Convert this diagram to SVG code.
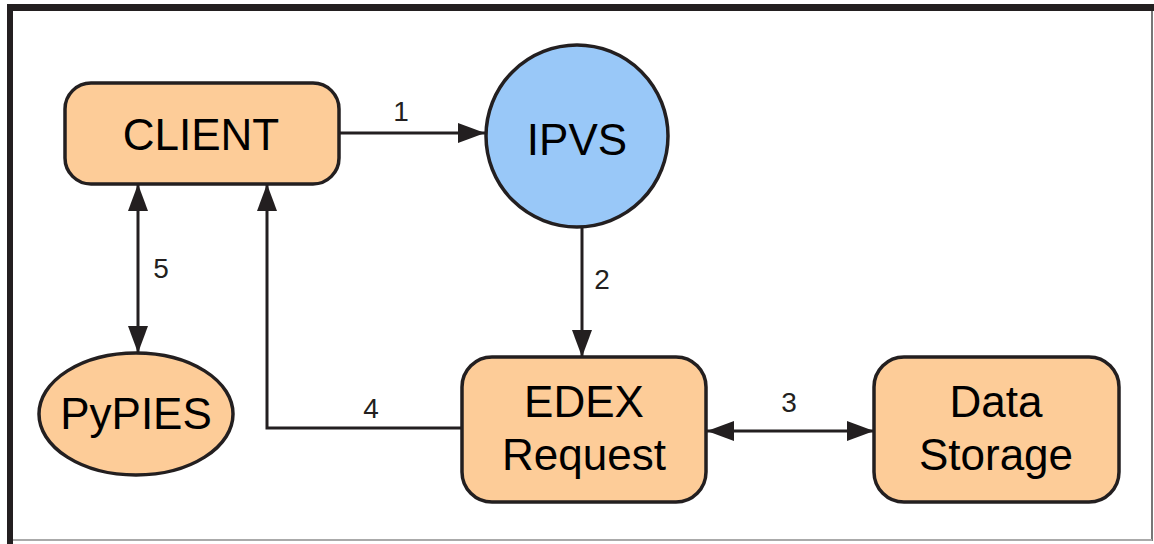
<svg xmlns="http://www.w3.org/2000/svg" width="1154" height="544" viewBox="0 0 1154 544">
<style>
.node{fill:#FDCC98;stroke:#231f20;stroke-width:3.5}
.blue{fill:#99C8F8;stroke:#231f20;stroke-width:3.5}
.t{font-family:"Liberation Sans",Arial,sans-serif;font-size:44px;fill:#000;text-anchor:middle}
.lbl{font-family:"Liberation Sans",Arial,sans-serif;font-size:28px;fill:#231f20;text-anchor:middle}
.c{fill:none;stroke:#231f20;stroke-width:3}
</style>
<defs>
<marker id="ah" markerUnits="userSpaceOnUse" markerWidth="28" markerHeight="20" viewBox="0 0 27 20" refX="27" refY="10" orient="auto-start-reverse">
<path d="M0,0 L27,10 L0,20 z" fill="#231f20"/>
</marker>
</defs>
<rect width="1154" height="544" fill="#fff"/>
<g id="frame">
<rect x="7" y="4" width="1147" height="7" fill="#231f20"/>
<rect x="7" y="4" width="6" height="540" fill="#231f20"/>
<line x1="1152" y1="11" x2="1152" y2="541" stroke="#777" stroke-width="2"/>
<line x1="13" y1="540" x2="1152" y2="540" stroke="#aaa" stroke-width="2"/>
</g>
<g id="connectors">
<line class="c" x1="340" y1="133" x2="485" y2="133" marker-end="url(#ah)"/>
<line class="c" x1="582" y1="228" x2="582" y2="357" marker-end="url(#ah)"/>
<line class="c" x1="707" y1="431" x2="874" y2="431" marker-start="url(#ah)" marker-end="url(#ah)"/>
<polyline class="c" points="462,428 267,428 267,184" marker-end="url(#ah)"/>
<line class="c" x1="138" y1="184" x2="138" y2="353" marker-start="url(#ah)" marker-end="url(#ah)"/>
<text class="lbl" x="401" y="121">1</text>
<text class="lbl" x="602" y="289">2</text>
<text class="lbl" x="789" y="412">3</text>
<text class="lbl" x="371" y="418">4</text>
<text class="lbl" x="161" y="278">5</text>
</g>
<g id="client">
<rect class="node" x="65" y="83" width="274" height="101" rx="26"/>
<text class="t" x="201" y="150">CLIENT</text>
</g>
<g id="ipvs">
<circle class="blue" cx="577" cy="136" r="91"/>
<text class="t" x="577" y="155">IPVS</text>
</g>
<g id="edex">
<rect class="node" x="462" y="357" width="244" height="145" rx="30"/>
<text class="t" x="584" y="417">EDEX</text>
<text class="t" x="584" y="470">Request</text>
</g>
<g id="storage">
<rect class="node" x="874" y="357" width="245" height="145" rx="30"/>
<text class="t" x="996" y="417">Data</text>
<text class="t" x="996" y="470">Storage</text>
</g>
<g id="pypies">
<ellipse class="node" cx="136" cy="414" rx="97" ry="61"/>
<text class="t" x="136" y="429">PyPIES</text>
</g>
</svg>
